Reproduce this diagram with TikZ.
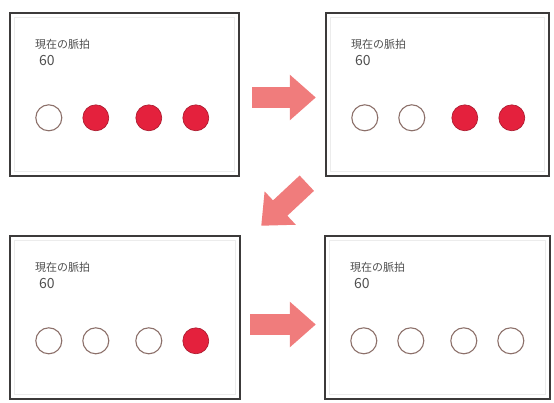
\documentclass[tikz,border=0pt]{standalone}
\usepackage{fontspec}
\newfontfamily\jpfont{Noto Sans CJK JP}
\usetikzlibrary{arrows.meta,calc}
\definecolor{framegray}{HTML}{3C3A3A}
\definecolor{innergray}{HTML}{ECECEC}
\definecolor{pulsered}{HTML}{E4213D}
\definecolor{pulseedge}{HTML}{A8182C}
\definecolor{ringbrown}{HTML}{8C706A}
\definecolor{arrowpink}{HTML}{F07C7C}
\definecolor{labelgray}{HTML}{505050}
\tikzset{
  panel/.style={draw=framegray, line width=2.4pt, fill=white, rectangle,
    minimum width=#1, minimum height=163pt, inner sep=0pt},
  innerframe/.style={draw=innergray, line width=0.8pt},
  caption/.style={anchor=west, inner sep=0pt, text=labelgray,
    font=\jpfont\fontsize{11}{12}\selectfont},
  rate/.style={anchor=west, inner sep=0pt, text=labelgray,
    font=\jpfont\fontsize{14}{15}\selectfont},
  beat/.style={circle, minimum size=26pt, inner sep=0pt},
  beaton/.style={beat, fill=pulsered, draw=pulseedge, line width=0.6pt},
  beatoff/.style={beat, fill=white, draw=ringbrown, line width=1.1pt},
  blockarrow/.style={draw=arrowpink, line width=21pt,
    -{Triangle[length=26pt,width=44pt,fill=arrowpink]}}
}
\begin{document}
\begin{tikzpicture}[x=1pt,y=-1pt]
  \useasboundingbox (0,0) rectangle (554,403);
  \fill[white] (0,0) rectangle (554,403);

  % the four panels
  \node[panel=229pt] (b1) at (124.5,94.5) {};
  \node[panel=223pt] (b2) at (437.5,94.5) {};
  \node[panel=230pt] (b3) at (125,317.5) {};
  \node[panel=225pt] (b4) at (437.5,317.5) {};

  % faint inner frames
  \foreach \b in {b1,b2,b3,b4}{
    \draw[innerframe] ([shift={(6,6)}]\b.north west) rectangle ([shift={(-6,-6)}]\b.south east);
  }

  % labels and beat indicators; \n = number of lit beats
  \foreach \b/\n in {b1/3,b2/2,b3/1,b4/0}{
    \node[caption] (\b t) at ([shift={(26,33)}]\b.north west) {現在の脈拍};
    \node[rate] (\b r) at ([shift={(30,49)}]\b.north west) {60};
    \foreach \i/\dx in {1/40,2/87,3/140,4/187}{
      \pgfmathtruncatemacro{\lit}{\i>4-\n ? 1 : 0}
      \ifnum\lit=1
        \node[beaton] (\b c\i) at ([shift={(\dx,106)}]\b.north west) {};
      \else
        \node[beatoff] (\b c\i) at ([shift={(\dx,106)}]\b.north west) {};
      \fi
    }
  }

  % arrows between panels
  \draw[blockarrow, shorten <=12pt, shorten >=9pt]
    ([yshift=-3pt]b1.east) -- ([yshift=-3pt]b2.west);
  \coordinate (d1) at ([shift={(-18,6)}]b2.south west);
  \coordinate (d2) at ([shift={(20,-9)}]b3.north east);
  \draw[blockarrow] (d1) -- (d2);
  \draw[blockarrow, shorten <=9pt, shorten >=8pt]
    ([yshift=-7pt]b3.east) -- ([yshift=-7pt]b4.west);
\end{tikzpicture}
\end{document}
